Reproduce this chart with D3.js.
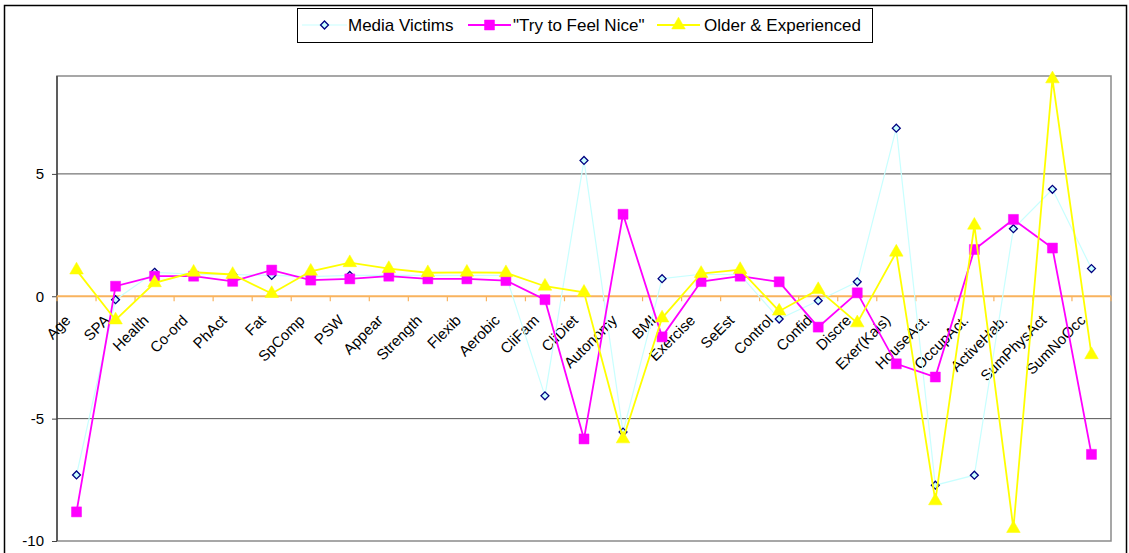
<!DOCTYPE html>
<html>
<head>
<meta charset="utf-8">
<script src="https://cdn.jsdelivr.net/npm/d3@7/dist/d3.min.js"></script>
<style>
  html, body { margin: 0; padding: 0; background: #fff; }
  svg { display: block; font-family: "Liberation Sans", Arial, sans-serif; }
</style>
</head>
<body>
<svg id="chart" width="1129" height="553"></svg>
<script>
const categories = ["Age","SPA","Health","Co-ord","PhAct","Fat","SpComp","PSW","Appear","Strength","Flexib","Aerobic","CliFam","CliDiet","Autonomy","BMI","Exercise","SeEst","Control","Confid","Discre","Exer(Kais)","HouseAct.","OccupAct.","ActiveHab.","SumPhysAct","SumNoOcc"];
const mediaVictims = [-7.3, -0.14, 0.98, 0.9, 0.89, 0.85, 0.8, 0.85, 0.85, 0.85, 0.85, 0.85, -4.07, 5.55, -5.55, 0.72, 0.9, 0.88, -0.93, -0.18, 0.59, 6.87, -7.72, -7.31, 2.76, 4.37, 1.13];
const tryToFeelNice = [-8.81, 0.41, 0.82, 0.82, 0.61, 1.07, 0.66, 0.71, 0.82, 0.71, 0.71, 0.64, -0.14, -5.83, 3.35, -1.66, 0.6, 0.82, 0.59, -1.26, 0.14, -2.76, -3.3, 1.91, 3.14, 1.97, -6.46];
const olderExperienced = [1.07, -0.97, 0.55, 0.98, 0.89, 0.11, 1.02, 1.37, 1.13, 0.96, 0.98, 0.96, 0.41, 0.16, -5.83, -0.89, 0.93, 1.09, -0.61, 0.27, -1.09, 1.8, -8.36, 2.9, -9.49, 8.88, -2.39];
const seriesNames = ["Media Victims", "\"Try to Feel Nice\"", "Older & Experienced"];
const yTicks = [5, 0, -5, -10];

const svg = d3.select("#chart");
const plot = { left: 57, right: 1111, top: 76, bottom: 541 };

// chart area border
svg.append("rect").attr("x", 4.5).attr("y", 5.5).attr("width", 1122).attr("height", 560)
  .attr("fill", "#fff").attr("stroke", "#000").attr("stroke-width", 1.5);

const x = d3.scaleBand().domain(categories).range([plot.left, plot.right]).padding(0);
const y = d3.scaleLinear().domain([-10, 9]).range([plot.bottom, plot.top]);
const cx = d => x(d) + x.bandwidth() / 2;

// plot area border
svg.append("rect").attr("x", plot.left).attr("y", plot.top)
  .attr("width", plot.right - plot.left).attr("height", plot.bottom - plot.top)
  .attr("fill", "#fff").attr("stroke", "#8a8a8a").attr("stroke-width", 1.5);

// gridlines
svg.append("g").selectAll("line").data([5, -5]).join("line")
  .attr("x1", plot.left).attr("x2", plot.right)
  .attr("y1", d => y(d)).attr("y2", d => y(d))
  .attr("stroke", "#555").attr("stroke-width", 1);

// y axis
const yAxis = d3.axisLeft(y).tickValues(yTicks).tickFormat(d => String(d)).tickSize(5).tickPadding(8);
const gy = svg.append("g").attr("transform", `translate(${plot.left},0)`).call(yAxis);
gy.select(".domain").attr("stroke", "#444").attr("stroke-width", 1.5).attr("d", `M0,${plot.top}V${plot.bottom}`);
gy.selectAll(".tick line").attr("stroke", "#444");
gy.selectAll("text").attr("font-size", 15).attr("fill", "#000").attr("font-family", "Liberation Sans, Arial, sans-serif");

// x axis at zero
const y0 = y(0);
const xb = d3.scaleLinear().domain([0, categories.length]).range([plot.left, plot.right]);
const orange = "#F9B35E";
svg.append("line").attr("x1", plot.left).attr("x2", plot.right).attr("y1", y0).attr("y2", y0)
  .attr("stroke", orange).attr("stroke-width", 2);
svg.append("g").selectAll("line").data(d3.range(0, categories.length + 1)).join("line")
  .attr("x1", d => xb(d)).attr("x2", d => xb(d)).attr("y1", y0).attr("y2", y0 + 5)
  .attr("stroke", orange).attr("stroke-width", 1.2);
svg.append("g").selectAll("text").data(categories).join("text")
  .attr("transform", d => `translate(${cx(d) - 5},${y0 + 25}) rotate(-45)`)
  .attr("text-anchor", "end").attr("font-size", 15).attr("fill", "#000")
  .text(d => d);

// series
const line = d3.line().x((d, i) => cx(categories[i])).y(d => y(d));
const styles = [
  { data: mediaVictims, stroke: "#C8FFFF", width: 1.2, symbol: d3.symbolDiamond2, size: 40, fill: "#C8FFFF", mstroke: "#000080", msw: 1.3 },
  { data: tryToFeelNice, stroke: "#FF00FF", width: 1.8, symbol: d3.symbolSquare, size: 100, fill: "#FF00FF", mstroke: "#FF00FF", msw: 0.5 },
  { data: olderExperienced, stroke: "#FFFF00", width: 1.8, symbol: d3.symbolTriangle, size: 80, fill: "#FFFF00", mstroke: "#FFFF00", msw: 0.5 }
];
styles.forEach(s => {
  const g = svg.append("g");
  g.append("path").datum(s.data).attr("d", line).attr("fill", "none")
    .attr("stroke", s.stroke).attr("stroke-width", s.width).attr("stroke-linejoin", "miter");
  g.selectAll("path.m").data(s.data).join("path").attr("class", "m")
    .attr("transform", (d, i) => `translate(${cx(categories[i])},${y(d)})`)
    .attr("d", d3.symbol().type(s.symbol).size(s.size))
    .attr("fill", s.fill).attr("stroke", s.mstroke).attr("stroke-width", s.msw);
});

// legend
const lg = svg.append("g");
lg.append("rect").attr("x", 297.5).attr("y", 8.5).attr("width", 575).attr("height", 34)
  .attr("fill", "#fff").attr("stroke", "#000").attr("stroke-width", 1);
const legendItems = [
  { x1: 302, x2: 347, tx: 348 },
  { x1: 468, x2: 511, tx: 513 },
  { x1: 657, x2: 700, tx: 704 }
];
legendItems.forEach((it, i) => {
  const s = styles[i];
  const ly = 25;
  lg.append("line").attr("x1", it.x1).attr("x2", it.x2).attr("y1", ly).attr("y2", ly)
    .attr("stroke", s.stroke).attr("stroke-width", s.width);
  lg.append("path").attr("transform", `translate(${(it.x1 + it.x2) / 2},${ly})`)
    .attr("d", d3.symbol().type(s.symbol).size(s.size))
    .attr("fill", s.fill).attr("stroke", s.mstroke).attr("stroke-width", s.msw);
  lg.append("text").attr("x", it.tx).attr("y", ly + 6).attr("font-size", 17).attr("fill", "#000")
    .text(seriesNames[i]);
});
</script>
</body>
</html>
